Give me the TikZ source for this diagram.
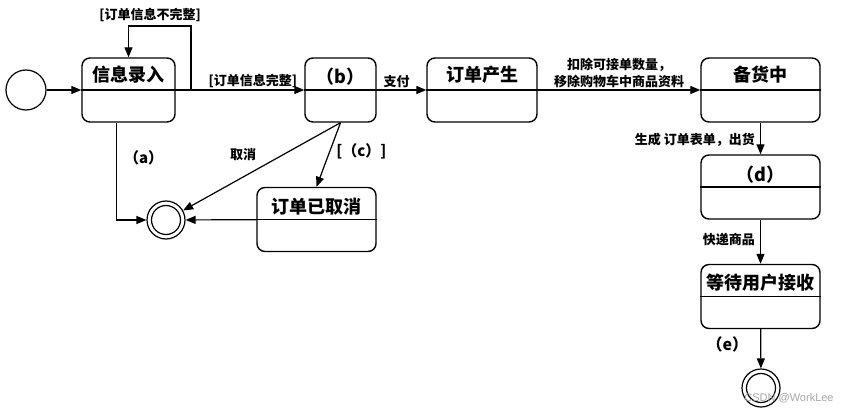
\documentclass[tikz,border=0pt]{standalone}
\usepackage{fontspec}
\setmainfont{Noto Sans CJK SC}
\newfontfamily\markfont{Liberation Sans}
\usetikzlibrary{arrows.meta, calc}

\begin{document}
\begin{tikzpicture}[x=1pt, y=-1pt, line width=1.2pt,
  state/.style={draw, line width=1.4pt, rounded corners=8pt, minimum height=64pt, inner sep=0pt},
  title/.style={font=\fontsize{18}{20}\selectfont\bfseries},
  lab/.style={font=\fontsize{13}{15}\selectfont\bfseries, inner sep=2pt},
  arr/.style={-{Triangle[length=10pt, width=8pt]}},
  final/.style={circle, draw, minimum size=38pt, inner sep=0pt,
    path picture={\draw (path picture bounding box.center) circle (14.5pt);}}]
\useasboundingbox (0,0) rectangle (850,414);
% states
\path
(26,90) node[circle, draw, minimum size=40pt] (init) {}
(128.5,90) node[state, minimum width=93pt] (entry) {}
(340.5,90) node[state, minimum width=71pt] (b) {}
(482,90) node[state, minimum width=110pt] (ordgen) {}
(760.5,90) node[state, minimum width=119pt] (stock) {}
(760.5,187) node[state, minimum width=119pt] (d) {}
(760.5,296.5) node[state, minimum width=119pt] (wait) {}
(316.5,219.5) node[state, minimum width=119pt] (cancel) {}
(166,220) node[final] (end1) {}
(761,388) node[final] (end2) {};
\foreach \s in {entry, b, ordgen, stock, d, wait, cancel}
  \draw (\s.west) -- (\s.east);
\path
($(entry)+(0,-15)$) node[title] (entry-t) {信息录入}
($(b)+(0,-13)$) node[title] (b-t) {（b）}
($(ordgen)+(0,-15)$) node[title] (ordgen-t) {订单产生}
($(stock)+(0,-15)$) node[title] (stock-t) {备货中}
($(d)+(0,-12)$) node[title] (d-t) {（d）}
($(wait)+(0,-14)$) node[title] (wait-t) {等待用户接收}
($(cancel)+(0,-13)$) node[title] (cancel-t) {订单已取消};
% transitions
\coordinate (loop) at (191,26);
\draw[arr] (init) -- (entry);
\draw[arr] (entry.east) -| (loop) -| (entry.north);
\path (150,15) node[lab] (l-loop) {[订单信息不完整]};
\draw[arr] (entry) -- node[lab, above, pos=0.6] (l-ok) {[订单信息完整]} (b);
\draw[arr] (b) -- node[lab, above, pos=0.4] (l-pay) {支付} (ordgen);
\draw[arr] (ordgen) -- node[lab, above, align=center, font=\fontsize{13}{17}\selectfont\bfseries] (l-ded) {扣除可接单数量，\\移除购物车中商品资料} (stock);
\draw[arr] (stock) -- node[lab, left=3pt, pos=0.55] (l-ship) {生成 订单表单，出货} (d);
\draw[arr] (d) -- node[lab, left=3pt, pos=0.45] (l-exp) {快递商品} (wait);
\draw[arr] (wait) -- node[lab, left=10pt, pos=0.4, font=\fontsize{16}{18}\selectfont\bfseries] (l-e) {（e）} (end2);
\draw[arr] ([xshift=-12pt]entry.south) |- node[lab, pos=0.18, right=5pt, font=\fontsize{15}{17}\selectfont\bfseries] (l-a) {（a）} (end1);
\draw[arr] (b.south) -- node[lab, pos=0.5, above left=3pt] (l-cancel) {取消} (end1);
\draw[arr] (b.south) -- node[lab, pos=0.45, right=4pt, font=\fontsize{15}{17}\selectfont\bfseries] (l-c) {[（c）]} (cancel.north);
\draw[arr] (cancel) -- (end1);
\path (789,398) node[text=gray!70, font=\markfont\fontsize{11}{13}\selectfont] (mark) {CSDN @WorkLee};
\end{tikzpicture}
\end{document}
